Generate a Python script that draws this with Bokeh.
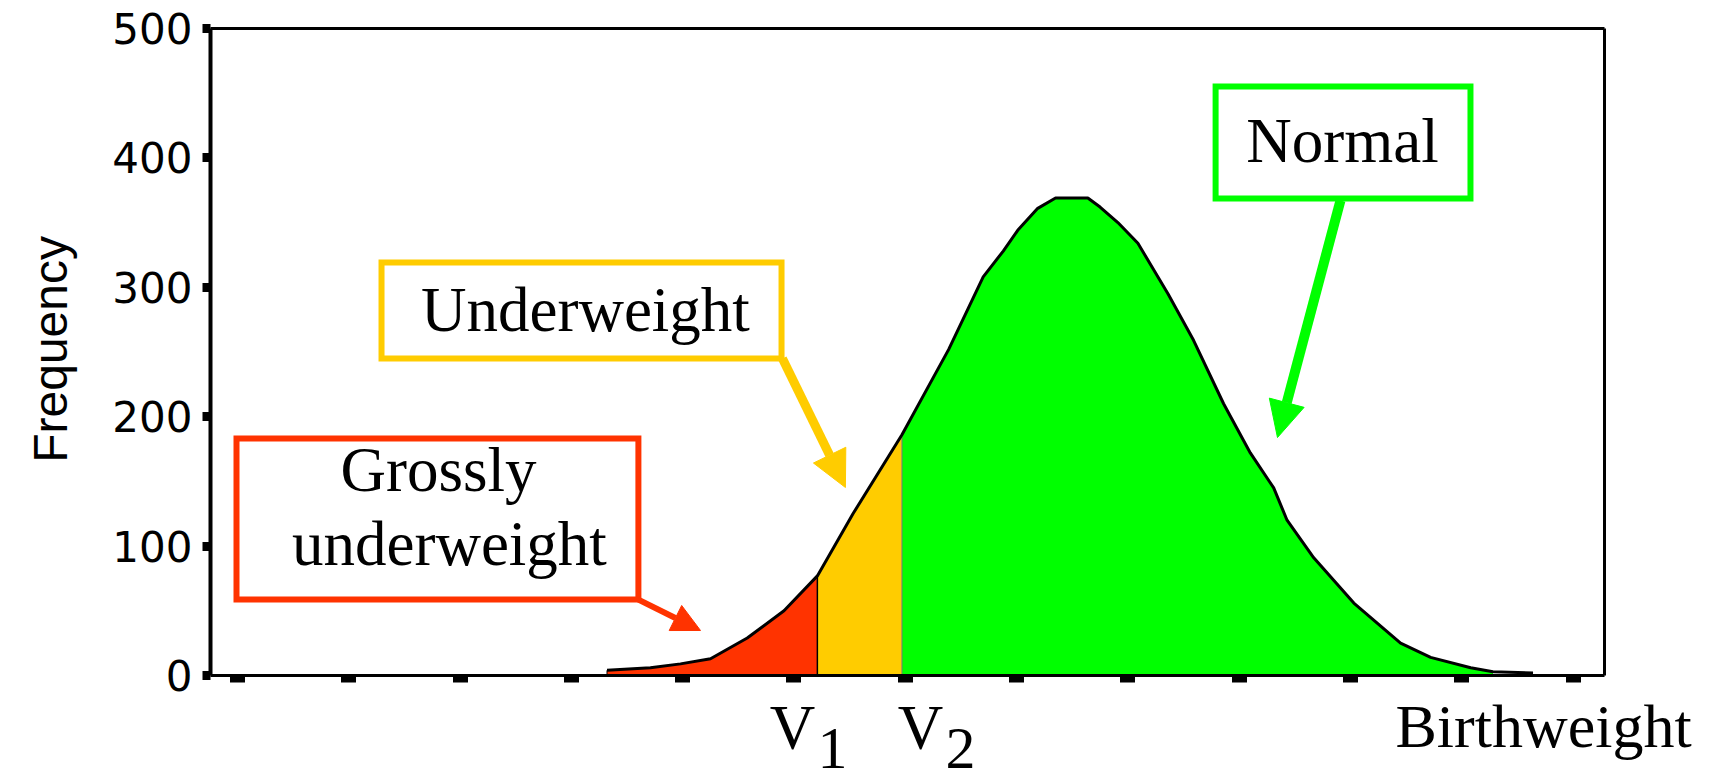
import math
from bokeh.plotting import figure
from bokeh.models import Label, Arrow, NormalHead, FixedTicker, Range1d, LinearAxis
from bokeh.embed import file_html
from bokeh.resources import INLINE

# ---- data (birthweight in grams, frequency) ----
weights = [1660, 1855, 1990, 2125, 2290, 2455, 2605, 2765, 2985, 3195, 3350,
           3440, 3505, 3595, 3675, 3820, 3875, 3955, 4045, 4180, 4295, 4430,
           4550, 4655, 4715, 4835, 5015, 5225, 5360, 5540, 5640, 5820]
freq = [4, 6, 9, 13, 29, 50, 77, 125, 186, 252, 308,
        328, 344, 361, 369, 369, 362, 350, 334, 295, 259, 210,
        172, 145, 120, 91, 56, 25, 14, 6, 3, 2]
V1 = 2605
V2 = 2985
GREEN_END = 5640
y_ticks = [0, 100, 200, 300, 400, 500]
x_ticks = [0, 500, 1000, 1500, 2000, 2500, 3000, 3500, 4000, 4500, 5000, 5500, 6000]

RED = "#FF3300"
YELLOW = "#FFCC00"
GREEN = "#00FF00"
SERIF = "Liberation Serif"
SANS = "Liberation Sans"

# visible plot box (data units) and the full canvas extent
BOX_X0, BOX_X1 = -121.3, 6141
BOX_Y0, BOX_Y1 = 0, 500
X_MIN, X_MAX = -1064.7, 6612.8
Y_MIN, Y_MAX = -84.2, 521.6

p = figure(width=1709, height=784, x_range=Range1d(X_MIN, X_MAX), y_range=Range1d(Y_MIN, Y_MAX),
           output_backend="svg", toolbar_location=None, title=None,
           min_border_left=0, min_border_right=0, min_border_top=0, min_border_bottom=0)
p.xgrid.visible = False
p.ygrid.visible = False
p.background_fill_color = "white"
p.border_fill_color = "white"
p.outline_line_color = None

# left axis
p.yaxis.fixed_location = BOX_X0
p.yaxis.ticker = FixedTicker(ticks=y_ticks)
p.yaxis.bounds = (BOX_Y0, BOX_Y1)
p.yaxis.major_label_text_font = "DejaVu Sans"
p.yaxis.major_label_text_font_size = "42px"
p.yaxis.major_label_text_color = "black"
p.yaxis.major_label_standoff = 10
p.yaxis.major_tick_out = 8
p.yaxis.major_tick_in = 0
p.yaxis.major_tick_line_width = 9
p.yaxis.minor_tick_line_color = None
p.yaxis.axis_line_width = 4

# bottom axis drawn at frequency 0
p.xaxis.fixed_location = BOX_Y0
p.xaxis.ticker = FixedTicker(ticks=x_ticks)
p.xaxis.bounds = (BOX_X0, BOX_X1)
p.xaxis.major_label_overrides = {t: "" for t in x_ticks}
p.xaxis.major_tick_out = 7
p.xaxis.major_tick_in = 0
p.xaxis.major_tick_line_width = 15
p.xaxis.minor_tick_line_color = None
p.xaxis.axis_line_width = 3

# box border at top and right
top_ax = LinearAxis(ticker=FixedTicker(ticks=[]), fixed_location=BOX_Y1, bounds=(BOX_X0, BOX_X1),
                    axis_line_width=3, major_tick_line_color=None, minor_tick_line_color=None)
right_ax = LinearAxis(ticker=FixedTicker(ticks=[]), fixed_location=BOX_X1, bounds=(BOX_Y0, BOX_Y1),
                      axis_line_width=3, major_tick_line_color=None, minor_tick_line_color=None)
p.add_layout(top_ax, "above")
p.add_layout(right_ax, "right")

def seg(lo, hi):
    xs, ys = [], []
    for x, y in zip(weights, freq):
        if lo <= x <= hi:
            xs.append(x)
            ys.append(y)
    return xs, ys

rx, ry = seg(weights[0], V1)
yx, yy = seg(V1, V2)
gx, gy = seg(V2, GREEN_END)
p.varea(x=rx, y1=[0] * len(rx), y2=ry, fill_color=RED)
p.varea(x=yx, y1=[0] * len(yx), y2=yy, fill_color=YELLOW)
p.varea(x=gx, y1=[0] * len(gx), y2=gy, fill_color=GREEN)

p.segment(x0=[V1], y0=[0], x1=[V1], y1=[freq[weights.index(V1)]], line_color="black", line_width=1.5)
p.segment(x0=[V2], y0=[0], x1=[V2], y1=[freq[weights.index(V2)]], line_color="#777777", line_width=1)
p.line(x=weights, y=freq, line_color="black", line_width=3)
p.segment(x0=[weights[0]], y0=[0], x1=[weights[0]], y1=[freq[0]], line_color="black", line_width=1)

# annotation boxes
p.quad(left=[4394], right=[5539], top=[455.2], bottom=[368.6], fill_color="white",
       line_color=GREEN, line_width=6, line_join="miter")
p.quad(left=[647], right=[2444], top=[319.2], bottom=[245.0], fill_color="white",
       line_color=YELLOW, line_width=6, line_join="miter")
p.quad(left=[-4.5], right=[1801], top=[183.2], bottom=[58.7], fill_color="white",
       line_color=RED, line_width=6, line_join="miter")

def txt(x, y, s, align="center", size="63px", font=SERIF, angle=0.0, baseline="alphabetic"):
    p.add_layout(Label(x=x, y=y, text=s, text_font=font, text_font_size=size,
                       text_align=align, text_baseline=baseline, text_color="black", angle=angle))

txt(4964, 412.7, "Normal")
txt(1563, 282.8, "Underweight")
txt(903, 159.2, "Grossly")
txt(952, 102.0, "underweight")

# arrows
p.add_layout(Arrow(end=NormalHead(size=36, fill_color=GREEN, line_color=GREEN, line_width=1),
                   x_start=4955, y_start=367.1, x_end=4672, y_end=183.9,
                   line_color=GREEN, line_width=10))
p.add_layout(Arrow(end=NormalHead(size=36, fill_color=YELLOW, line_color=YELLOW, line_width=1),
                   x_start=2448, y_start=245.0, x_end=2731, y_end=145.3,
                   line_color=YELLOW, line_width=9))
p.add_layout(Arrow(end=NormalHead(size=28, fill_color=RED, line_color=RED, line_width=1),
                   x_start=1801, y_start=58.7, x_end=2080, y_end=34.8,
                   line_color=RED, line_width=6))

# labels below the axis
txt(V1 - 112, -40.2, "V")
txt(V1 + 68, -56.0, "1", size="60px")
txt(V2 + 83, -40.2, "V")
txt(V2 + 263, -56.0, "2", size="60px")
txt(5202, -38.7, "Birthweight", align="left", size="62px")

# y-axis title
txt(-840, 252, "Frequency", size="48px", font=SANS, angle=math.pi / 2, baseline="middle")

open("out.html", "w").write(file_html(p, INLINE))
